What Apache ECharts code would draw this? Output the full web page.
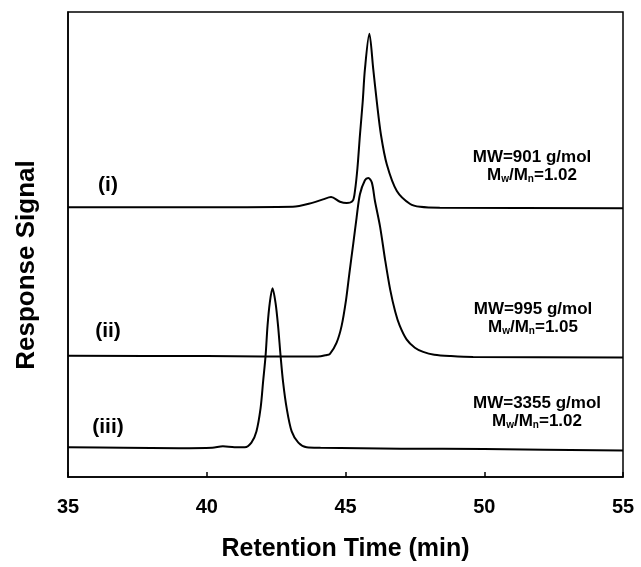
<!DOCTYPE html>
<html>
<head>
<meta charset="utf-8">
<script src="https://cdn.jsdelivr.net/npm/echarts@6/dist/echarts.min.js"></script>
<style>
html,body{margin:0;padding:0;background:#fff;}
#chart{width:641px;height:567px;}
</style>
</head>
<body>
<div id="chart"></div>
<script>
// Retention time ticks
var xTicks = [35, 40, 45, 50, 55];

// Trace (i): MW=901 g/mol  [time (min), signal (a.u., offset trace)]
var traceI = [
  [35, 58.0], [40, 58.0], [43.1, 58.1], [43.83, 59.0], [44.19, 59.7], [44.48, 60.2],
  [44.8, 59.2], [45.04, 58.9], [45.26, 59.4], [45.34, 61.5], [45.43, 66.4],
  [45.52, 73.5], [45.62, 80.7], [45.70, 87.7], [45.86, 95.3], [46.00, 87.7],
  [46.13, 80.6], [46.28, 73.5], [46.49, 67.2], [46.85, 61.5], [47.33, 58.7],
  [47.69, 58.1], [48.4, 57.9], [55, 57.8]
];

// Trace (ii): MW=995 g/mol
var traceII = [
  [35, 26.1], [40, 26.0], [44.0, 25.9], [44.3, 26.2], [44.44, 26.5], [44.68, 28.9],
  [44.86, 32.5], [45.02, 38.1], [45.14, 43.8], [45.28, 50.2], [45.40, 55.8],
  [45.52, 60.8], [45.70, 63.8], [45.82, 64.3], [45.95, 63.3], [46.06, 59.4],
  [46.25, 53.7], [46.43, 46.6], [46.61, 40.3], [46.79, 35.6], [46.95, 32.6],
  [47.2, 29.6], [47.5, 27.8], [47.8, 26.9], [48.2, 26.3], [48.8, 26.0],
  [49.6, 25.8], [55, 25.7]
];

// Trace (iii): MW=3355 g/mol
var traceIII = [
  [35, 6.4], [37, 6.3], [39, 6.2], [40.2, 6.3], [40.58, 6.6], [41.0, 6.4],
  [41.37, 6.4], [41.61, 7.4], [41.79, 9.8], [41.94, 14.8], [42.03, 20.45],
  [42.12, 26.1], [42.19, 32.5], [42.27, 37.4], [42.37, 40.6], [42.48, 37.4],
  [42.57, 32.5], [42.66, 26.1], [42.75, 20.45], [42.88, 14.8], [43.06, 9.8],
  [43.30, 7.4], [43.6, 6.4], [44.1, 6.3], [47, 6.1], [50, 6.0], [55, 5.7]
];

// Labels
var traceNames = ['(i)', '(ii)', '(iii)'];
var mwLabels = ['MW=901 g/mol', 'MW=995 g/mol', 'MW=3355 g/mol'];
var pdiValues = ['1.02', '1.05', '1.02'];

var chart = echarts.init(document.getElementById('chart'), null, {renderer: 'canvas'});
var font = 'Liberation Sans, Arial, Helvetica, sans-serif';

function lineSeries(data) {
  return {
    type: 'line', data: data, showSymbol: false, smooth: 0.3,
    lineStyle: {color: '#000', width: 2}, animation: false
  };
}

var nameY = [185, 331, 427];
var mwY = [157, 309, 403];
var mwX = [532, 533, 537];

var graphics = [];
traceNames.forEach(function (t, i) {
  graphics.push({
    type: 'text', x: 108, y: nameY[i],
    style: {text: t, font: 'bold 21px ' + font, fill: '#000', align: 'center', verticalAlign: 'middle'}
  });
  graphics.push({
    type: 'text', x: mwX[i], y: mwY[i] - 9,
    style: {
      text: mwLabels[i] + '\nM{s|w}/M{s|n}=' + pdiValues[i],
      fontFamily: font, fontWeight: 'bold', fontSize: 17, lineHeight: 18,
      fill: '#000', align: 'center', verticalAlign: 'top',
      rich: {s: {fontFamily: font, fontWeight: 'bold', fontSize: 10, lineHeight: 4, verticalAlign: 'bottom', fill: '#000'}}
    }
  });
});
graphics.push({
  type: 'text', x: 27, y: 265, rotation: Math.PI / 2,
  style: {text: 'Response Signal', font: 'bold 26px ' + font, fill: '#000', align: 'center', verticalAlign: 'middle'}
});

chart.setOption({
  animation: false,
  backgroundColor: '#fff',
  grid: {left: 68, right: 18, top: 12, bottom: 85, show: true, borderColor: '#000', borderWidth: 1.5, backgroundColor: 'transparent'},
  xAxis: {
    type: 'value', min: xTicks[0], max: xTicks[xTicks.length - 1], interval: 5,
    name: 'Retention Time (min)', nameLocation: 'middle', nameGap: 60,
    nameTextStyle: {fontFamily: font, fontWeight: 'bold', fontSize: 25, color: '#000'},
    axisLine: {show: true, lineStyle: {color: '#000', width: 1.5}},
    axisTick: {show: true, inside: true, length: 5, lineStyle: {color: '#000', width: 1.5}},
    axisLabel: {fontFamily: font, fontWeight: 'bold', fontSize: 20, color: '#000', margin: 20},
    splitLine: {show: false}
  },
  yAxis: {
    type: 'value', min: 0, max: 100,
    axisLine: {show: true, lineStyle: {color: '#000', width: 1.5}},
    axisTick: {show: false}, axisLabel: {show: false}, splitLine: {show: false}
  },
  series: [lineSeries(traceI), lineSeries(traceII), lineSeries(traceIII)],
  graphic: graphics
});
</script>
</body>
</html>
